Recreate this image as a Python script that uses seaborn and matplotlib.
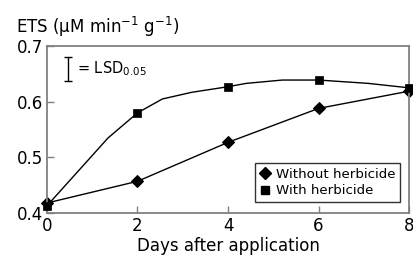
import matplotlib
matplotlib.use("Agg")
import matplotlib.pyplot as plt
from matplotlib.lines import Line2D
import seaborn as sns
import pandas as pd

days = [0, 2, 4, 6, 8]
without_herbicide = [0.418, 0.457, 0.527, 0.588, 0.619]
with_herbicide = [0.413, 0.580, 0.627, 0.639, 0.625]

# Smoothed line drawn through the "with herbicide" points
with_curve_x = [0, 1.35, 2, 2.55, 3.2, 4, 4.4, 5.2, 6, 7.1, 8]
with_curve_y = [0.413, 0.535, 0.580, 0.605, 0.617, 0.627, 0.633, 0.639, 0.639, 0.633, 0.625]

lsd_value = 0.043

sns.set_style("white", {"text.color": "black", "xtick.color": "black",
                        "ytick.color": "black", "axes.labelcolor": "black"})
plt.rcParams["font.family"] = ["DejaVu Sans"]
plt.rcParams["mathtext.default"] = "regular"

df_without = pd.DataFrame({"day": days, "ets": without_herbicide})
df_with = pd.DataFrame({"day": days, "ets": with_herbicide})
df_curve = pd.DataFrame({"day": with_curve_x, "ets": with_curve_y})

fig = plt.figure(figsize=(4.14, 2.62), dpi=100)
ax = fig.add_axes([0.1135, 0.187, 0.8745, 0.637])

# Without herbicide: straight segments with diamonds
sns.lineplot(data=df_without, x="day", y="ets", ax=ax, color="black", lw=1.0,
             marker="D", markersize=6.5, markeredgecolor="black", clip_on=False)
# With herbicide: smoothed line plus squares
sns.lineplot(data=df_curve, x="day", y="ets", ax=ax, color="black", lw=1.0,
             sort=False, clip_on=False)
sns.scatterplot(data=df_with, x="day", y="ets", ax=ax, color="black", marker="s",
                s=40, edgecolor="black", clip_on=False, zorder=3)

ax.set_xlim(0, 8)
ax.set_ylim(0.4, 0.7)
ax.set_xticks([0, 2, 4, 6, 8])
ax.set_yticks([0.4, 0.5, 0.6, 0.7])
ax.set_yticklabels(["0.4", "0.5", "0.6", "0.7"])
ax.tick_params(direction="in", length=5, width=1, color="#808080", labelcolor="black",
               labelsize=12, pad=3, left=True, bottom=True)
for sp in ax.spines.values():
    sp.set_color("#808080")
    sp.set_linewidth(1.3)
ax.set_xlabel("Days after application", fontsize=12, labelpad=1, color="black")
ax.set_ylabel("")

# LSD bar
ax.errorbar([0.46], [0.659], yerr=[lsd_value / 2], color="black", lw=1.0, capsize=3)
ax.text(0.66, 0.659, "= LSD$_{0.05}$", fontsize=10.5, va="center", ha="left", color="black")

fig.text(0.039, 0.874, r"ETS ($\mu$M min$^{-1}$ g$^{-1}$)", fontsize=12, va="baseline",
         color="black")

handles = [
    Line2D([], [], ls="none", marker="D", color="black", markersize=6),
    Line2D([], [], ls="none", marker="s", color="black", markersize=6),
]
leg = ax.legend(handles, ["Without herbicide", "With herbicide"], loc="lower right",
                bbox_to_anchor=(0.975, 0.066), fontsize=9.6, frameon=True, fancybox=False,
                handlelength=0.8, handletextpad=0.4, borderpad=0.35, labelspacing=0.25,
                borderaxespad=0)
leg.get_frame().set_edgecolor("black")
leg.get_frame().set_linewidth(1.0)
for t in leg.get_texts():
    t.set_color("black")

fig.savefig("out.png", dpi=100)
